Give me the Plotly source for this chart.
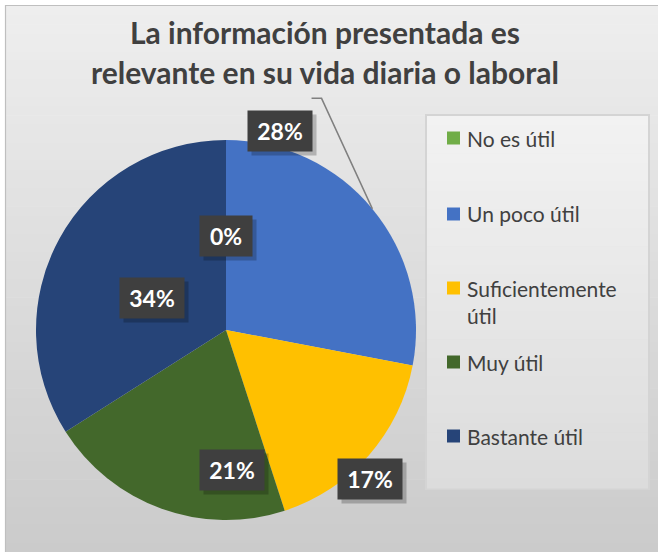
import math
import plotly.graph_objects as go

# ---- data ----
categories = ["No es útil", "Un poco útil", "Suficientemente útil", "Muy útil", "Bastante útil"]
legend_labels = ["No es útil", "Un poco útil", "Suficientemente<br>útil", "Muy útil", "Bastante útil"]
values = [0, 28, 17, 21, 34]
colors = ["#70AD47", "#4472C4", "#FFC000", "#43682B", "#264478"]
title_lines = ["La información presentada es", "relevante en su vida diaria o laboral"]

# ---- styling / layout helpers ----
W, H = 658, 552
CX, CY, R = 226, 330, 190          # pie centre and radius in px
# label placement (radius fraction, angle nudge in degrees) per slice
label_place = [(0.495, 0), (1.19, -36.7), (1.17, 8.3), (0.86, -10.3), (0.59, -12.2)]
label_w = [52, 64, 64, 64, 64]


def px(x):
    return x / W


def py(y):
    return 1 - y / H


def lerp_col(c1, c2, t):
    a = [int(c1[i:i + 2], 16) for i in (1, 3, 5)]
    b = [int(c2[i:i + 2], 16) for i in (1, 3, 5)]
    return "#" + "".join(f"{round(a[k] + (b[k] - a[k]) * t):02x}" for k in range(3))


shapes = []
# chart area gradient background
N = 60
top, bot = 6, H
for i in range(N):
    y0 = top + (bot - top) * i / N
    y1 = top + (bot - top) * (i + 1) / N + 0.6
    shapes.append(dict(type="rect", xref="paper", yref="paper", layer="below",
                       x0=px(6), x1=1, y0=py(y1), y1=py(y0),
                       fillcolor=lerp_col("#EEEEEE", "#CBCBCB", i / (N - 1)), line_width=0))
shapes.append(dict(type="rect", xref="paper", yref="paper", layer="below",
                   x0=px(5.5), x1=1.01, y0=-0.01, y1=py(5.5),
                   line=dict(color="#BFBFBF", width=1.2)))
# legend box gradient
lx0, lx1, ly0, ly1 = 427, 648, 116, 488
shapes.append(dict(type="rect", xref="paper", yref="paper", layer="below",
                   x0=px(lx0 - 2), x1=px(lx1 + 2), y0=py(ly1 + 2), y1=py(ly0 - 2),
                   fillcolor="#D4D4D4", line_width=0))
M = 40
for i in range(M):
    y0 = ly0 + (ly1 - ly0) * i / M
    y1 = ly0 + (ly1 - ly0) * (i + 1) / M + 0.6
    shapes.append(dict(type="rect", xref="paper", yref="paper", layer="below",
                       x0=px(lx0), x1=px(lx1), y0=py(y1), y1=py(y0),
                       fillcolor=lerp_col("#F2F2F2", "#DCDCDC", i / (M - 1)), line_width=0))

annotations = []
# title
for k, line in enumerate(title_lines):
    annotations.append(dict(text=f"<b>{line}</b>", x=px(325), y=py(32 + 40 * k),
                            xref="paper", yref="paper", showarrow=False,
                            xanchor="center", yanchor="middle",
                            font=dict(family="Lato", size=30, color="#404040")))

# legend (built from categories/colors)
leg_y = [138, 214, 288, 362, 436]
for lab, col, ly in zip(legend_labels, colors, leg_y):
    shapes.append(dict(type="rect", xref="paper", yref="paper",
                       x0=px(447), x1=px(460), y0=py(ly + 6.5), y1=py(ly - 6.5),
                       fillcolor=col, line_width=0))
    multiline = "<br>" in lab
    annotations.append(dict(text=lab, x=px(465), y=py(ly - 14 if multiline else ly),
                            xref="paper", yref="paper", showarrow=False,
                            xanchor="left", yanchor="top" if multiline else "middle",
                            align="left",
                            font=dict(family="Lato", size=21, color="#404040")))

# data labels
total = sum(values)
cum = 0
for i, v in enumerate(values):
    mid = (cum + v / 2) / total * 360
    cum += v
    rf, nudge = label_place[i]
    ang = math.radians(mid + nudge)
    lx = CX + rf * R * math.sin(ang)
    ly = CY - rf * R * math.cos(ang)
    pct = f"{round(v / total * 100)}%"
    # shadow
    annotations.append(dict(text=" ", x=px(lx + 4), y=py(ly + 4), xref="paper", yref="paper",
                            showarrow=False, width=label_w[i], height=40,
                            bgcolor="rgba(0,0,0,0.22)", borderpad=0))
    annotations.append(dict(text=f"<b>{pct}</b>", x=px(lx), y=py(ly), xref="paper", yref="paper",
                            showarrow=False, width=label_w[i], height=40, borderpad=0,
                            bgcolor="#3F3F3F", align="center", valign="middle",
                            font=dict(family="Lato", size=23, color="white")))
    if rf > 1.1 and nudge < -20:
        # leader line from label box to slice edge
        ex = CX + R * math.sin(math.radians(mid))
        ey = CY - R * math.cos(math.radians(mid))
        bx = lx + label_w[i] / 2
        by = ly - 12
        shapes.append(dict(type="path", xref="paper", yref="paper",
                           path=f"M {px(bx)} {py(by)} L {px(bx + 10)} {py(by)} L {px(ex)} {py(ey)}",
                           line=dict(color="#808080", width=1.5)))

fig = go.Figure(go.Pie(
    labels=categories, values=values, sort=False, direction="clockwise", rotation=0,
    marker=dict(colors=colors, line=dict(width=0)), textinfo="none", hoverinfo="label+percent",
    showlegend=False,
    domain=dict(x=[px(CX - R), px(CX + R)], y=[py(CY + R), py(CY - R)]),
))

fig.update_layout(width=W, height=H, margin=dict(l=0, r=0, t=0, b=0),
                  paper_bgcolor="white", plot_bgcolor="white",
                  shapes=shapes, annotations=annotations, showlegend=False)

fig.write_html("out.html", config={"displayModeBar": False},
               post_script="document.body.style.margin='0px';document.body.style.overflow='hidden';")
